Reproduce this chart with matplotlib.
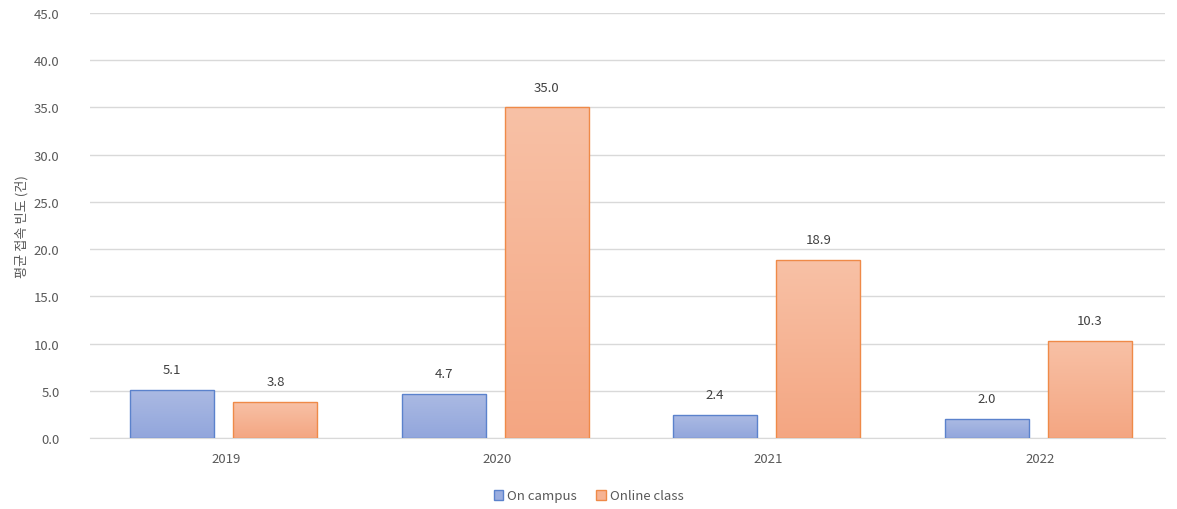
# Average access frequency, on campus vs online class, 2019-2022
import numpy as np
import matplotlib
matplotlib.use("Agg")
import matplotlib.pyplot as plt
from matplotlib.colors import LinearSegmentedColormap
from matplotlib.patches import Patch

plt.rcParams['font.family'] = ['Noto Sans CJK KR', 'DejaVu Sans']

# Data
years = ['2019', '2020', '2021', '2022']
on_campus = [5.1, 4.7, 2.4, 2.0]
online_class = [3.8, 35.0, 18.9, 10.3]
y_label = '평균 접속 빈도 (건)'
series_names = ['On campus', 'Online class']

text_color = '#595959'
blue_edge, orange_edge = '#5b82cc', '#ef8a48'
blue_cmap = LinearSegmentedColormap.from_list('b', ['#92a6dc', '#abbae3'])
orange_cmap = LinearSegmentedColormap.from_list('o', ['#f4a682', '#f8c1a6'])

fig = plt.figure(figsize=(11.77, 5.10), dpi=100)
ax = fig.add_axes([90 / 1177, 71 / 510, 1075 / 1177, 425 / 510])

x = np.arange(len(years))
width = 0.31
offset = 0.19

def gradient_bars(ax, xs, vals, cmap, edge):
    bars = ax.bar(xs, vals, width, color='none', edgecolor=edge, linewidth=1.0, zorder=3)
    grad = np.linspace(0, 1, 256).reshape(-1, 1)
    for b in bars:
        x0, y0 = b.get_x(), b.get_y()
        w, h = b.get_width(), b.get_height()
        im = ax.imshow(grad, cmap=cmap, aspect='auto', origin='lower',
                       extent=[x0, x0 + w, y0, y0 + h], zorder=2)
        im.set_clip_path(b)
    return bars

b1 = gradient_bars(ax, x - offset - 0.007, on_campus, blue_cmap, blue_edge)
b2 = gradient_bars(ax, x + offset - 0.007, online_class, orange_cmap, orange_edge)

for bars, vals in ((b1, on_campus), (b2, online_class)):
    for b, v in zip(bars, vals):
        ax.annotate(f'{v:.1f}', (b.get_x() + b.get_width() / 2, v), xytext=(0, 10),
                    textcoords='offset points', ha='center', va='bottom',
                    fontsize=9.5, color='#404040')

ax.set_xlim(-0.5, 3.46)
ax.set_ylim(0, 45)
ax.set_yticks(np.arange(0, 46, 5))
ax.set_yticklabels([f'{t:.1f}' for t in np.arange(0, 46, 5)])
ax.set_xticks(x)
ax.set_xticklabels(years)
ax.tick_params(axis='both', length=0, labelsize=9.5, labelcolor=text_color)
ax.tick_params(axis='x', pad=10)
ax.tick_params(axis='y', pad=22)
ax.grid(axis='y', color='#d9d9d9', linewidth=1, zorder=0)
ax.set_axisbelow(True)
for s in ['top', 'right', 'left']:
    ax.spines[s].set_visible(False)
ax.spines['bottom'].set_color('#d9d9d9')
ax.set_ylabel(y_label, fontsize=9.5, color=text_color, labelpad=4)

handles = [Patch(facecolor='#9aaddf', edgecolor=blue_edge),
           Patch(facecolor='#f6b393', edgecolor=orange_edge)]
fig.legend(handles, series_names, loc='center', bbox_to_anchor=(0.5, 13 / 510), ncol=2,
           frameon=False, fontsize=9.5, labelcolor=text_color, handlelength=0.7,
           handleheight=0.7, handletextpad=0.3, columnspacing=1.5)

plt.savefig('out.png', dpi=100)
plt.close()
